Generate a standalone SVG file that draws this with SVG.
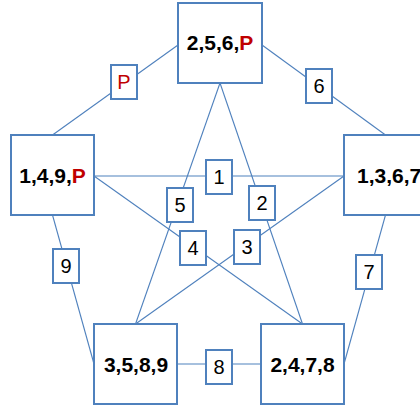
<svg xmlns="http://www.w3.org/2000/svg" width="420" height="412" viewBox="0 0 420 412">
<style>
.ln{stroke:#4f81bd;stroke-width:1.1;fill:none}
.nb{fill:#fff;stroke:#4f81bd;stroke-width:2}
.lb{fill:#fff;stroke:#4f81bd;stroke-width:2}
.nt{font-family:"Liberation Sans",Arial,sans-serif;font-weight:bold;font-size:21px;fill:#000}
.lt{font-family:"Liberation Sans",Arial,sans-serif;font-size:20px;fill:#000;text-anchor:middle}
.red{fill:#c00000}
</style>
<rect width="420" height="412" fill="#fff"/>
<g id="connectors">
<line class="ln" x1="52.5" y1="135" x2="178" y2="45"/>
<line class="ln" x1="262" y1="45" x2="385.5" y2="135"/>
<line class="ln" x1="52.5" y1="215" x2="94" y2="364"/>
<line class="ln" x1="385.5" y1="215" x2="344" y2="364"/>
<line class="ln" x1="177" y1="364" x2="261" y2="364"/>
<line class="ln" x1="94" y1="176" x2="344" y2="176"/>
<line class="ln" x1="220" y1="83" x2="135.5" y2="324"/>
<line class="ln" x1="220" y1="83" x2="302.5" y2="324"/>
<line class="ln" x1="94" y1="176" x2="302.5" y2="324"/>
<line class="ln" x1="344" y1="176" x2="135.5" y2="324"/>
</g>
<g id="node-top"><rect class="nb" x="178" y="3" width="84" height="80"/><text class="nt" x="220" y="50" text-anchor="middle">2,5,6,<tspan class="red">P</tspan></text></g>
<g id="node-left"><rect class="nb" x="11" y="135" width="83" height="80"/><text class="nt" x="52.5" y="183" text-anchor="middle">1,4,9,<tspan class="red">P</tspan></text></g>
<g id="node-right"><rect class="nb" x="344" y="135" width="84" height="80"/><text class="nt" x="357" y="183">1,3,6,7</text></g>
<g id="node-bl"><rect class="nb" x="94" y="324" width="83" height="80"/><text class="nt" x="136" y="372" text-anchor="middle">3,5,8,9</text></g>
<g id="node-br"><rect class="nb" x="261" y="324" width="83" height="80"/><text class="nt" x="302.5" y="372" text-anchor="middle">2,4,7,8</text></g>
<g id="label-P"><rect class="lb" x="111" y="65" width="26" height="34"/><text class="lt red" x="124" y="89">P</text></g>
<g id="label-6"><rect class="lb" x="306" y="69" width="26" height="34"/><text class="lt" x="319" y="93">6</text></g>
<g id="label-1"><rect class="lb" x="206" y="160" width="26" height="34"/><text class="lt" x="219" y="184">1</text></g>
<g id="label-5"><rect class="lb" x="167" y="188" width="26" height="34"/><text class="lt" x="180" y="212">5</text></g>
<g id="label-2"><rect class="lb" x="249" y="186" width="26" height="34"/><text class="lt" x="262" y="210">2</text></g>
<g id="label-4"><rect class="lb" x="180" y="231" width="26" height="34"/><text class="lt" x="193" y="255">4</text></g>
<g id="label-3"><rect class="lb" x="234" y="230" width="26" height="34"/><text class="lt" x="247" y="254">3</text></g>
<g id="label-9"><rect class="lb" x="53" y="249" width="26" height="34"/><text class="lt" x="66" y="273">9</text></g>
<g id="label-7"><rect class="lb" x="356" y="255" width="26" height="34"/><text class="lt" x="369" y="279">7</text></g>
<g id="label-8"><rect class="lb" x="206" y="350" width="26" height="34"/><text class="lt" x="219" y="374">8</text></g>
</svg>
